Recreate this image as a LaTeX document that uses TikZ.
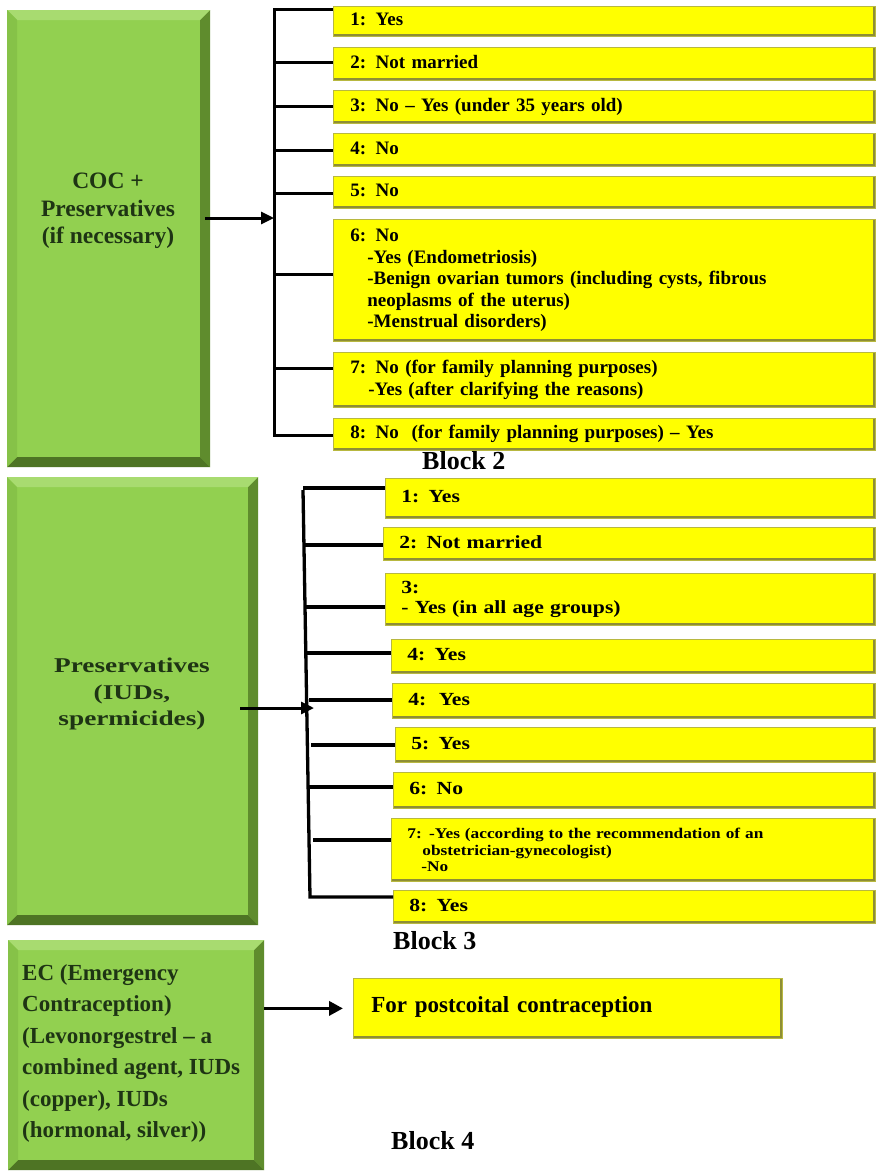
\documentclass[tikz,border=0pt]{standalone}
\usepackage{fontspec}
\setmainfont{Liberation Serif}
\newfontfamily\widefont{Liberation Serif}[FakeStretch=1.17]
\newfontfamily\widegreen{Liberation Serif}[FakeStretch=1.3]
\usetikzlibrary{arrows.meta,calc}
\definecolor{gface}{HTML}{92D050}
\definecolor{gtop}{HTML}{A8DB70}
\definecolor{gleft}{HTML}{86C248}
\definecolor{gright}{HTML}{5F8C2D}
\definecolor{gbot}{HTML}{4E7424}
\definecolor{gtext}{HTML}{1E3414}
\definecolor{yfill}{HTML}{FFFF00}
\definecolor{yedge}{HTML}{8E8E35}
\definecolor{yline}{HTML}{B8B840}
\begin{document}
\begin{tikzpicture}[x=1pt,y=-1pt,
  greenbox/.style={anchor=north west, inner sep=0pt, fill=gface, path picture={
    \path (path picture bounding box.north west) coordinate (pnw)
          (path picture bounding box.north east) coordinate (pne)
          (path picture bounding box.south west) coordinate (psw)
          (path picture bounding box.south east) coordinate (pse);
    \fill[gtop] (pnw) -- (pne) -- ([shift={(-10pt,-10pt)}]pne) -- ([shift={(10pt,-10pt)}]pnw) -- cycle;
    \fill[gleft] (pnw) -- ([shift={(10pt,-10pt)}]pnw) -- ([shift={(10pt,10pt)}]psw) -- (psw) -- cycle;
    \fill[gright] (pne) -- (pse) -- ([shift={(-10pt,10pt)}]pse) -- ([shift={(-10pt,-10pt)}]pne) -- cycle;
    \fill[gbot] (psw) -- (pse) -- ([shift={(-10pt,10pt)}]pse) -- ([shift={(10pt,10pt)}]psw) -- cycle;
  }},
  gtxt/.style={text=gtext, align=center, inner sep=0pt},
  ybox/.style={anchor=north west, fill=yfill, draw=yline, line width=0.8pt,
    inner xsep=17pt, inner ysep=0pt, align=left,
    font=\bfseries\fontsize{19}{21.5}\selectfont,
    path picture={
      \fill[yedge] ([yshift=2.5pt]path picture bounding box.south west) rectangle (path picture bounding box.south east);
      \fill[yedge] ([xshift=-2.5pt]path picture bounding box.north east) rectangle (path picture bounding box.south east);
    }},
  ybox1/.style={ybox, text height=13pt, text depth=4pt},
  wbox/.style={ybox, inner xsep=16pt, font=\widefont\bfseries\fontsize{18.5}{20}\selectfont},
  wbox1/.style={wbox, text height=12.5pt, text depth=4pt},
  conn/.style={line width=3pt, draw=black},
  conn2/.style={line width=3.3pt, draw=black},
  arr/.style={line width=3pt, -{Triangle[length=13pt,width=12pt]}},
  arr3/.style={line width=3.8pt, -{Triangle[length=14pt,width=14pt]}},
  lbl/.style={font=\bfseries\fontsize{26}{28}\selectfont, inner sep=0pt, anchor=base west}
]
\useasboundingbox (0,0) rectangle (877,1172);
\fill[white] (0,0) rectangle (877,1172);

% ---------- Block 1 ----------
\node[greenbox, minimum width=203pt, minimum height=457pt] (g1) at (7,10) {};
\node[gtxt, font=\bfseries\fontsize{23.5}{27.5}\selectfont] (t1) at (108,211) {COC +\\Preservatives\\(if necessary)};

\node[ybox1, minimum width=542pt, text width=508pt, minimum height=30pt] (b1) at (333,6) {1: Yes};
\node[ybox1, minimum width=542pt, text width=508pt, minimum height=33pt] (b2) at (333,47) {2: Not married};
\node[ybox1, minimum width=542pt, text width=508pt, minimum height=33pt] (b3) at (333,90) {3: No – Yes (under 35 years old)};
\node[ybox1, minimum width=542pt, text width=508pt, minimum height=33pt] (b4) at (333,133) {4: No};
\node[ybox1, minimum width=542pt, text width=508pt, minimum height=32pt] (b5) at (333,176) {5: No};
\node[ybox, minimum width=542pt, text width=508pt, minimum height=122pt] (b6) at (333,219) {6: No\\
\hspace*{17pt}-Yes (Endometriosis)\\
\hspace*{17pt}-Benign ovarian tumors (including cysts, fibrous\\
\hspace*{17pt}neoplasms of the uterus)\\
\hspace*{17pt}-Menstrual disorders)};
\node[ybox, minimum width=542pt, text width=508pt, minimum height=55pt] (b7) at (333,352) {7: No (for family planning purposes)\\
\hspace*{18pt}-Yes (after clarifying the reasons)};
\node[ybox1, minimum width=542pt, text width=508pt, minimum height=32pt] (b8) at (333,418) {8: No\ \ (for family planning purposes) – Yes};

\coordinate (j0) at (274,218);
\coordinate (j1) at (274,10);
\coordinate (j2) at (274,63);
\coordinate (j3) at (274,106);
\coordinate (j4) at (274,150);
\coordinate (j5) at (274,193);
\coordinate (j6) at (274,274);
\coordinate (j7) at (274,368);
\coordinate (j8) at (274,435);
\draw[conn] (j1 -| b1.west) -- (j1) -- (j8) -- (j8 -| b8.west);
\foreach \k in {2,...,7} \draw[conn] (j\k) -- (j\k -| b\k.west);
\draw[arr] ($(g1.east |- j0)+(-5,0)$) -- (j0);

\node[lbl] (L2) at (422,469) {Block 2};

% ---------- Block 2 ----------
\node[greenbox, minimum width=251pt, minimum height=448pt] (g2) at (7,477) {};
\node[gtxt, font=\widegreen\bfseries\fontsize{21}{26.5}\selectfont] (t2) at (132,694) {Preservatives\\(IUDs,\\spermicides)};

\node[wbox1, minimum width=490pt, text width=458pt, minimum height=40pt] (c1) at (385,478) {1: Yes};
\node[wbox1, minimum width=492pt, text width=460pt, minimum height=33pt] (c2) at (383,527) {2: Not married};
\node[wbox, minimum width=490pt, text width=458pt, minimum height=52pt] (c3) at (385,573) {3:\\- Yes (in all age groups)};
\node[wbox1, minimum width=484pt, text width=452pt, minimum height=34pt] (c4) at (391,639) {4: Yes};
\node[wbox1, minimum width=483pt, text width=451pt, minimum height=35pt] (c5) at (392,683) {4:\ \ Yes};
\node[wbox1, minimum width=480pt, text width=448pt, minimum height=35pt] (c6) at (395,727) {5: Yes};
\node[wbox1, minimum width=482pt, text width=450pt, minimum height=36pt] (c7) at (393,772) {6: No};
\node[wbox, minimum width=484pt, text width=452pt, minimum height=63pt,
      font=\widefont\bfseries\fontsize{14.8}{16.5}\selectfont] (c8) at (391,818) {7: -Yes (according to the recommendation of an\\
\hspace*{15pt}obstetrician-gynecologist)\\
\hspace*{14pt}-No};
\node[wbox1, minimum width=482pt, text width=450pt, minimum height=33pt] (c9) at (393,890) {8: Yes};

\coordinate (k0) at (314,708);
\coordinate (kT) at (303,490);
\coordinate (kB) at (310,897);
\coordinate (k1) at (303,488);
\coordinate (k2) at (304,545);
\coordinate (k3) at (305,607);
\coordinate (k4) at (307,653);
\coordinate (k5) at (309,700);
\coordinate (k6) at (311,745);
\coordinate (k7) at (308,787);
\coordinate (k8) at (313,840);
\draw[conn2] (kT) -- (kB) -- (kB -| c9.west);
\foreach \k in {1,...,8} \draw[conn2] (k\k) -- (k\k -| c\k.west);
\draw[arr] ($(g2.east |- k0)+(-18,0)$) -- (k0);

\node[lbl] (L3) at (393,949) {Block 3};

% ---------- Block 3 ----------
\node[greenbox, minimum width=256pt, minimum height=230pt] (g3) at (8,940) {};
\node[text=gtext, inner sep=0pt, anchor=north west, align=left,
      font=\bfseries\fontsize{23}{31.5}\selectfont] (t3) at (22,964) {EC (Emergency\\Contraception)\\(Levonorgestrel – a\\combined agent, IUDs\\(copper), IUDs\\(hormonal, silver))};

\node[ybox1, inner xsep=18pt, minimum width=429pt, text width=393pt, minimum height=60pt,
      font=\bfseries\fontsize{23}{26}\selectfont] (y1) at (353,978) {For postcoital contraception};
\draw[arr3] (g3.east |- y1.west) -- ($(y1.west)+(-10,0)$);

\node[lbl] (L4) at (391,1149) {Block 4};
\end{tikzpicture}
\end{document}
